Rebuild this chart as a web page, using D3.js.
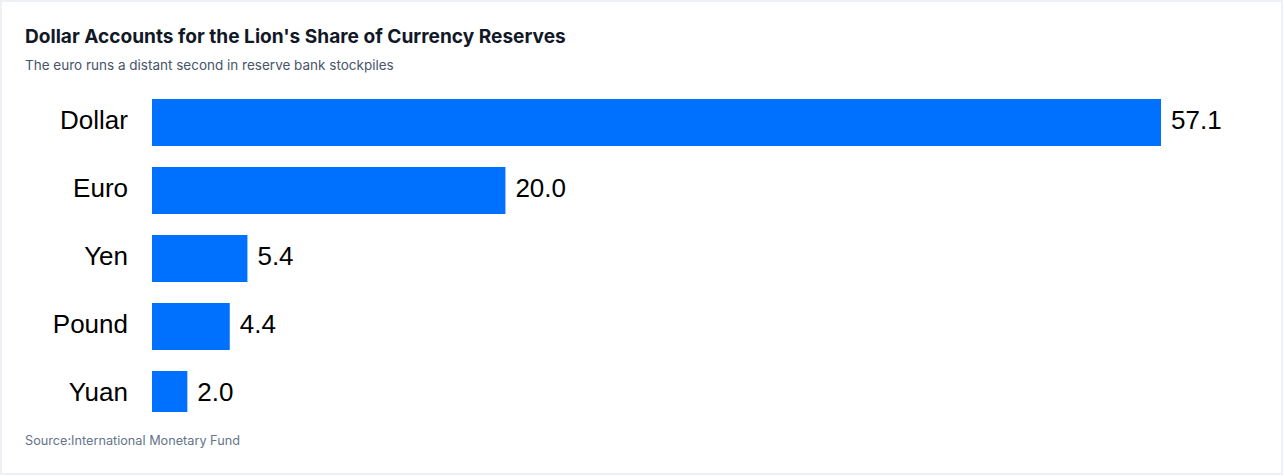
<!DOCTYPE html>
<meta charset="utf-8">
<style>
  body { margin: 0; background: #fff; }
  svg { display: block; }
</style>
<body>
<script src="https://d3js.org/d3.v7.min.js"></script>
<script>

var currencies = ["Dollar", "Euro", "Yen", "Pound", "Yuan"];
var shares = [57.1, 20.0, 5.4, 4.4, 2.0];

var title = "Dollar Accounts for the Lion's Share of Currency Reserves",
    subtitle = "The euro runs a distant second in reserve bank stockpiles",
    source = "Source:International Monetary Fund";

var width = 1284,
    height = 476;

var data = currencies.map(function(c, i) { return {name: c, value: shares[i]}; });

var svg = d3.select("body").append("svg")
    .attr("width", width)
    .attr("height", height);

// card
svg.append("rect")
    .attr("x", 1)
    .attr("y", 1)
    .attr("width", width - 3)
    .attr("height", height - 3)
    .attr("fill", "#fff")
    .attr("stroke", "#edf1f6")
    .attr("stroke-width", 2);

svg.append("text")
    .attr("x", 25)
    .attr("y", 43)
    .style("font-family", "Inter, sans-serif")
    .style("font-weight", 700)
    .style("font-size", "19.1px")
    .style("fill", "#111827")
    .text(title);

svg.append("text")
    .attr("x", 25)
    .attr("y", 70)
    .style("font-family", "Inter, sans-serif")
    .style("font-size", "13.5px")
    .style("fill", "#475569")
    .text(subtitle);

svg.append("text")
    .attr("x", 25)
    .attr("y", 445)
    .style("font-family", "Inter, sans-serif")
    .style("font-size", "12.7px")
    .style("fill", "#64748b")
    .text(source);

var x = d3.scaleLinear()
    .domain([0, d3.max(shares)])
    .range([152, 1161]);

var y = d3.scaleBand()
    .domain(currencies)
    .range([99, 418])
    .paddingInner(0.309)
    .paddingOuter(0);

// plot area ends at 412, last bar gets cut
svg.append("clipPath")
    .attr("id", "plot")
  .append("rect")
    .attr("x", 0)
    .attr("y", 80)
    .attr("width", width)
    .attr("height", 332);

svg.append("g")
    .attr("clip-path", "url(#plot)")
  .selectAll("rect")
  .data(data)
  .enter().append("rect")
    .attr("x", x(0))
    .attr("y", d => y(d.name))
    .attr("width", d => x(d.value) - x(0))
    .attr("height", y.bandwidth())
    .attr("fill", "#0070ff");

svg.append("g").selectAll("text")
  .data(data)
  .enter().append("text")
    .attr("x", x(0) - 24)
    .attr("y", d => y(d.name) + y.bandwidth() / 2)
    .attr("dy", "0.25em")
    .attr("text-anchor", "end")
    .style("font-family", "'Liberation Sans', Arial, sans-serif")
    .style("font-size", "26px")
    .style("fill", "#000")
    .text(d => d.name);

svg.append("g").selectAll("text")
  .data(data)
  .enter().append("text")
    .attr("x", d => x(d.value) + 10)
    .attr("y", d => y(d.name) + y.bandwidth() / 2)
    .attr("dy", "0.25em")
    .style("font-family", "'Liberation Sans', Arial, sans-serif")
    .style("font-size", "26px")
    .style("fill", "#000")
    .text(d => d.value.toFixed(1));

</script>
